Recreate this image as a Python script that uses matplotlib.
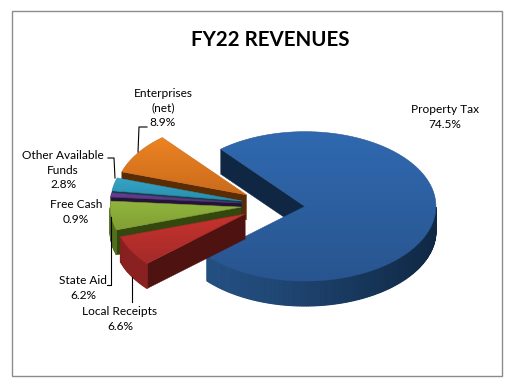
import numpy as np
import matplotlib
matplotlib.use("Agg")
import matplotlib.pyplot as plt
from matplotlib.patches import Polygon, Rectangle
from matplotlib.colors import to_rgb

plt.rcParams['font.family'] = ['Lato', 'DejaVu Sans']

# slices, counter clockwise on screen from the upper edge of the gap
categories = ["Enterprises\n(net)", "Other Available\nFunds", "Free Cash", "State Aid", "Local Receipts", "Property Tax"]
values = [8.9, 2.8, 0.9, 6.2, 6.6, 74.5]
top_light = ["#EE8422", "#35A6C8", "#6A4296", "#92B53E", "#C8332F", "#3069B0"]
top_dark = ["#C96A1C", "#2A8CAB", "#553379", "#7F9F33", "#A32A28", "#28558F"]
side_dark = ["#5A2C06", "#123F4E", "#241538", "#33470F", "#4E1211", "#0F2743"]
side_light = ["#7A3F0E", "#1C5F75", "#38215A", "#55731C", "#8A2120", "#234E80"]

start_angle = 130.0
cx, cy = 273.0, 205.0
rx = 131.0
k = 0.57
depth = 25.0
explode = 32.0


def ell(c, t):
    return c[0] + rx * np.cos(np.radians(t)), c[1] - rx * k * np.sin(np.radians(t))


def mix(a, b, f):
    a, b = np.array(to_rgb(a)), np.array(to_rgb(b))
    return tuple(a + (b - a) * f)


fig = plt.figure(figsize=(5.13, 3.86), dpi=100)
ax = fig.add_axes([0, 0, 1, 1])
ax.set_xlim(0, 513)
ax.set_ylim(386, 0)
ax.axis("off")

ax.add_patch(Rectangle((11.5, 10.5), 490, 365, fc="white", ec="#8C8C8C", lw=1.0))

ax.text(270, 39.5, "FY22 REVENUES", ha="center", va="center", fontsize=14.8, fontweight="bold", color="black")

fracs = np.array(values) / sum(values) * 360
a0s = start_angle + np.concatenate([[0], np.cumsum(fracs)[:-1]])
a1s = a0s + fracs

# blue one goes first, the small ones go back to front on top of it
order = [5, 0, 1, 2, 3, 4]
for z, i in enumerate(order):
    a0, a1 = a0s[i], a1s[i]
    mid = np.radians((a0 + a1) / 2)
    c = (cx + explode * np.cos(mid), cy - explode * k * np.sin(mid))
    zo = 3 + z

    # cut wall that faces the viewer
    for a in (a0, a1):
        facing = np.cos(np.radians(a)) > 0 if a == a0 else np.cos(np.radians(a)) < 0
        if facing:
            px, py = ell(c, a)
            ax.add_patch(Polygon([c, (px, py), (px, py + depth), (c[0], c[1] + depth)],
                                 closed=True, fc=side_dark[i], ec=side_dark[i], lw=0.3, zorder=zo))

    # rim, small strips so it can shade around the curve
    ts = np.arange(a0, a1 + 1, 1.0)
    ts = np.append(ts[ts < a1], a1)
    for t0, t1 in zip(ts[:-1], ts[1:]):
        tm = (t0 + t1) / 2
        if np.sin(np.radians(tm)) >= 0:
            continue
        x0, y0 = ell(c, t0)
        x1, y1 = ell(c, t1)
        f = 0.5 + 0.5 * np.cos(np.radians(tm - 220))
        col = mix(side_dark[i], side_light[i], f ** 2)
        ax.add_patch(Polygon([(x0, y0), (x1, y1), (x1, y1 + depth), (x0, y0 + depth)],
                             closed=True, fc=col, ec=col, lw=0.8, zorder=zo))

    # top face, vertical gradient clipped to the wedge
    ts = np.linspace(a0, a1, 200)
    xs, ys = ell(c, ts)
    xs = np.r_[c[0], xs]
    ys = np.r_[c[1], ys]
    top = Polygon(np.column_stack([xs, ys]), closed=True,
                  fc="none", ec=top_dark[i], lw=0.4, zorder=zo + 0.2)
    ax.add_patch(top)
    grad = np.linspace(0, 1, 64).reshape(-1, 1, 1)
    rgb = np.array(to_rgb(top_light[i])) * (1 - grad) + np.array(to_rgb(top_dark[i])) * grad
    im = ax.imshow(rgb, extent=(xs.min() - 1, xs.max() + 1, ys.max() + 1, ys.min() - 1),
                   aspect="auto", zorder=zo + 0.1, interpolation="bilinear")
    im.set_clip_path(top)

ax.set_xlim(0, 513)
ax.set_ylim(386, 0)

# labels
label_x = [163, 63, 76, 83, 120, 445]
label_y = [108, 170, 212, 288, 319, 117]
for i in range(len(categories)):
    ax.text(label_x[i], label_y[i], f"{categories[i]}\n{values[i]}%", ha="center", va="center",
            fontsize=8.6, color="black", linespacing=1.4, zorder=20)

# leader lines
leader_x = [[147, 139, 138], [108, 114, 115], [107, 110.5, 110.5], [131.5, 131.5]]
leader_y = [[127, 127, 152], [158, 158, 178], [285, 285, 217], [277, 302]]
for lx, ly in zip(leader_x, leader_y):
    ax.plot(lx, ly, color="black", lw=0.8, zorder=19)

fig.savefig("out.png", dpi=100)
